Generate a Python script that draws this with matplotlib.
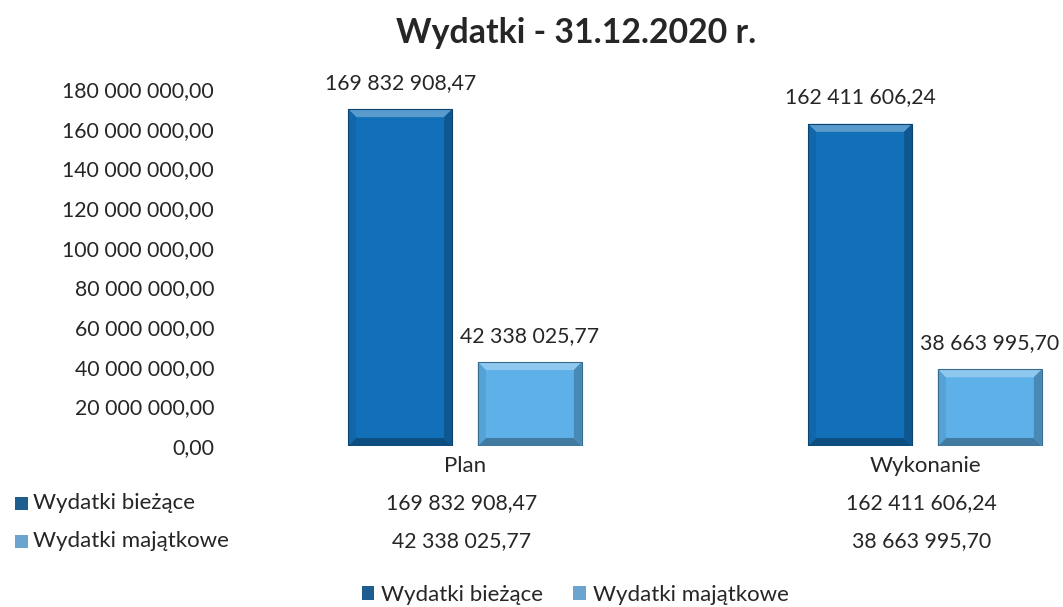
import matplotlib
matplotlib.use("Agg")
import matplotlib.pyplot as plt
from matplotlib.patches import Polygon, Patch
import matplotlib.transforms as mtransforms
import matplotlib.colors as mc
import numpy as np

categories = ["Plan", "Wykonanie"]
series_names = ["Wydatki bieżące", "Wydatki majątkowe"]
biezace = [169832908.47, 162411606.24]
majatkowe = [42338025.77, 38663995.70]
yticks = [0, 20e6, 40e6, 60e6, 80e6, 100e6, 120e6, 140e6, 160e6, 180e6]
title = "Wydatki - 31.12.2020 r."

FONT = ["Lato", "DejaVu Sans"]
plt.rcParams["font.family"] = FONT
TXT = "#262626"
C_DARK = "#1270b8"
C_LIGHT = "#5eb0e8"
M_DARK = "#1d5e8e"
M_LIGHT = "#6aa4cf"
FS_NUM = 15.3
FS_TXT = 16


def fmt(v):
    return f"{v:,.2f}".replace(",", " ").replace(".", ",")


W, H = 1063, 607
fig = plt.figure(figsize=(W / 100, H / 100), dpi=100)
ax_l, ax_r, ax_b, ax_t = 235, 1063, 446, 89
ax = fig.add_axes([ax_l / W, (H - ax_b) / H, (ax_r - ax_l) / W, (ax_b - ax_t) / H])

x = np.arange(len(categories))
bw = 0.226
off = 0.141
series = [biezace, majatkowe]
colors = [C_DARK, C_LIGHT]
bars_all = []
for i, (vals, col) in enumerate(zip(series, colors)):
    bars = ax.bar(x + (i * 2 - 1) * off, vals, width=bw, color=col,
                  edgecolor="none", zorder=2)
    bars_all.append(bars)

ax.set_xlim(-0.5, (ax_r - 465) / 460)
ax.set_ylim(0, 180e6)

# bevel effect derived from each bar's own geometry
bx = 8 / 460.0
by = 8 * 180e6 / (ax_b - ax_t)


def shade(c, f):
    r, g, b = mc.to_rgb(c)
    if f > 0:
        return (r + (1 - r) * f, g + (1 - g) * f, b + (1 - b) * f)
    return (r * (1 + f), g * (1 + f), b * (1 + f))


for bars, col in zip(bars_all, colors):
    for b in bars:
        x0, y0 = b.get_x(), b.get_y()
        x1, y1 = x0 + b.get_width(), y0 + b.get_height()
        polys = [
            ([(x0, y1), (x1, y1), (x1 - bx, y1 - by), (x0 + bx, y1 - by)], shade(col, 0.3)),
            ([(x0, y0), (x1, y0), (x1 - bx, y0 + by), (x0 + bx, y0 + by)], shade(col, -0.3)),
            ([(x0, y0), (x0, y1), (x0 + bx, y1 - by), (x0 + bx, y0 + by)], shade(col, -0.08)),
            ([(x1, y0), (x1, y1), (x1 - bx, y1 - by), (x1 - bx, y0 + by)], shade(col, -0.22)),
        ]
        for pts, c in polys:
            ax.add_patch(Polygon(pts, closed=True, facecolor=c, edgecolor="none", zorder=3))
        ax.add_patch(Polygon([(x0, y0), (x1, y0), (x1, y1), (x0, y1)], closed=True,
                             facecolor="none", edgecolor=shade(col, -0.4), lw=0.8, zorder=4))
        ax.annotate(fmt(b.get_height()), (x0 + b.get_width() / 2, y1),
                    xytext=(0, 19), textcoords="offset points", ha="center", va="center",
                    fontsize=FS_NUM, color=TXT, annotation_clip=False)

for s in ax.spines.values():
    s.set_visible(False)
ax.set_yticks(yticks)
ax.set_yticklabels([fmt(v) for v in yticks])
ax.tick_params(axis="y", length=0, pad=15, labelsize=FS_NUM, labelcolor=TXT)
ax.set_xticks(x)
ax.set_xticklabels(categories)
ax.tick_params(axis="x", length=0, pad=7, labelsize=FS_TXT, labelcolor=TXT)

fig.text(576 / W, 1 - 33 / H, title, ha="center", va="center", fontsize=24.4,
         fontweight="bold", color=TXT)

# data table
trans = mtransforms.blended_transform_factory(ax.transData, fig.transFigure)
row_y = [503, 541]
mk = [M_DARK, M_LIGHT]
for r, (name, vals) in enumerate(zip(series_names, series)):
    yy = 1 - row_y[r] / H
    fig.text(33 / W, yy, name, ha="left", va="center", fontsize=FS_TXT, color=TXT)
    fig.patches.append(plt.Rectangle((15 / W, yy - 6.5 / H), 13 / W, 13 / H,
                                     transform=fig.transFigure, figure=fig,
                                     facecolor=mk[r], edgecolor="none"))
    for xi, v in zip(x, vals):
        ax.text(xi - 0.008, yy, fmt(v), transform=trans, ha="center", va="center",
                fontsize=FS_NUM, color=TXT)

handles = [Patch(facecolor=M_DARK, label=series_names[0]),
           Patch(facecolor=M_LIGHT, label=series_names[1])]
fig.legend(handles=handles, ncol=2, loc="center", bbox_to_anchor=(575 / W, 1 - 595 / H),
           frameon=False, fontsize=FS_TXT, handlelength=0.58, handleheight=0.58,
           handletextpad=0.3, columnspacing=1.35, labelcolor=TXT, borderpad=0)

fig.savefig("out.png", dpi=100)
